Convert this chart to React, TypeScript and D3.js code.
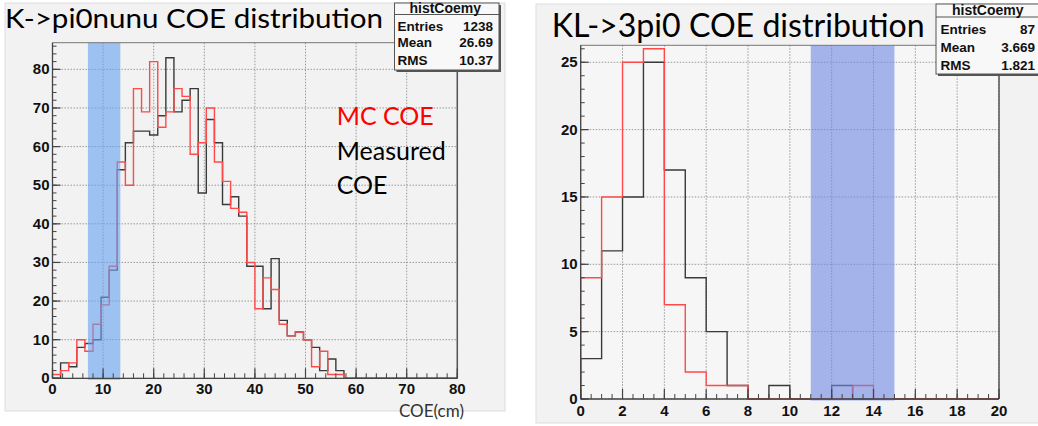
import React from "react";
import * as d3 from "d3";

// ---------- Left panel: K->pi0nunu ----------
const leftRange: [number, number] = [0, 80];
const leftMeasured = [
  0, 4, 3, 8, 9, 10, 21, 28, 54, 61, 64, 64, 63, 68, 83, 69, 72, 75, 48, 67,
  61, 45, 47, 42, 29, 29, 18, 31, 15, 11, 12, 10, 8, 2, 5, 2, 0, 0, 0, 0,
  0, 0, 0, 0, 0, 0, 0, 0, 0, 0,
];
const leftMC = [
  1, 2, 4, 10, 7, 14, 19, 29, 56, 50, 75, 69, 82, 65, 69, 75, 73, 58, 61, 70,
  56, 51, 44, 43, 30, 18, 26, 23, 14, 11, 12, 10, 3, 7, 1, 1, 0, 0, 0, 0,
  0, 0, 0, 0, 0, 0, 0, 0, 0, 0,
];
const leftXTicks = [0, 10, 20, 30, 40, 50, 60, 70, 80];
const leftYTicks = [0, 10, 20, 30, 40, 50, 60, 70, 80];
const leftBand: [number, number] = [7, 13.4];
const leftStatLabels = ["Entries", "Mean", "RMS"];
const leftStatValues = ["1238", "26.69", "10.37"];

// ---------- Right panel: KL->3pi0 ----------
const rightRange: [number, number] = [0, 20];
const rightMeasured = [3, 11, 15, 25, 17, 9, 5, 1, 0, 1, 0, 0, 1, 0, 0, 0, 0, 0, 0, 0];
const rightMC = [9, 15, 25, 26, 7, 2, 1, 1, 0, 0, 0, 0, 0, 1, 0, 0, 0, 0, 0, 0];
const rightXTicks = [0, 2, 4, 6, 8, 10, 12, 14, 16, 18, 20];
const rightYTicks = [0, 5, 10, 15, 20, 25];
const rightBand: [number, number] = [11, 15];
const rightStatLabels = ["Entries", "Mean", "RMS"];
const rightStatValues = ["87", "3.669", "1.821"];

const histName = "histCoemy";

type PanelProps = {
  canvas: { x: number; y: number; w: number; h: number };
  frame: { l: number; r: number; t: number; b: number };
  range: [number, number];
  yMax: number;
  measured: number[];
  mc: number[];
  xTicks: number[];
  yTicks: number[];
  minorX: number;
  minorY: number;
  band: [number, number];
  bandColor: string;
  frameFill: string;
  title: string;
  titleX: number;
  titleY: number;
  titleSize: number;
  titleLen: number;
  stats: { x: number; y: number; w: number; h: number; sepY: number; nameY: number; rowY: number[]; labelX: number; valueX: number };
  statLabels: string[];
  statValues: string[];
  xTickLabelY: number;
};

function stepPath(values: number[], x: d3.ScaleLinear<number, number>, y: d3.ScaleLinear<number, number>, range: [number, number]) {
  const w = (range[1] - range[0]) / values.length;
  const p = d3.path();
  p.moveTo(x(range[0]), y(0));
  values.forEach((v, i) => {
    p.lineTo(x(range[0] + i * w), y(v));
    p.lineTo(x(range[0] + (i + 1) * w), y(v));
  });
  p.lineTo(x(range[1]), y(0));
  return p.toString();
}

function Panel(props: PanelProps) {
  const { canvas, frame, range, yMax, measured, mc, xTicks, yTicks, minorX, minorY, band, stats } = props;
  const x = d3.scaleLinear().domain(range).range([frame.l, frame.r]);
  const y = d3.scaleLinear().domain([0, yMax]).range([frame.b, frame.t]);
  const minorXs = d3.range(range[0], range[1] + 1e-9, minorX);
  const minorYs = d3.range(0, yMax, minorY);
  const tickFont = "'Liberation Sans', Arial, sans-serif";
  return (
    <g>
      <rect x={canvas.x} y={canvas.y} width={canvas.w} height={canvas.h} fill="#f2f2f2" stroke="#dddddd" strokeWidth={1} />
      <rect x={frame.l} y={frame.t} width={frame.r - frame.l} height={frame.b - frame.t} fill={props.frameFill} />
      {/* grid */}
      {xTicks.map((t) => (
        <line key={"gx" + t} x1={x(t)} x2={x(t)} y1={frame.t} y2={frame.b} stroke="#9a9a9a" strokeWidth={1} strokeDasharray="1.5,1.5" />
      ))}
      {yTicks.map((t) => (
        <line key={"gy" + t} x1={frame.l} x2={frame.r} y1={y(t)} y2={y(t)} stroke="#9a9a9a" strokeWidth={1} strokeDasharray="1.5,1.5" />
      ))}
      {/* histograms */}
      <path d={stepPath(measured, x, y, range)} fill="none" stroke="#3a3a3a" strokeWidth={1.4} />
      <path d={stepPath(mc, x, y, range)} fill="none" stroke="#ff4a4a" strokeWidth={1.4} />
      {/* band */}
      <rect x={x(band[0])} y={frame.t} width={x(band[1]) - x(band[0])} height={frame.b - frame.t + 1.5} fill={props.bandColor} opacity={0.6} />
      {/* frame */}
      <line x1={frame.l} x2={frame.r} y1={frame.t} y2={frame.t} stroke="#777" strokeWidth={1} />
      <line x1={frame.r} x2={frame.r} y1={frame.t} y2={frame.b} stroke="#555" strokeWidth={1.5} />
      <line x1={frame.l} x2={frame.l} y1={frame.t} y2={frame.b} stroke="#444" strokeWidth={1.3} />
      <line x1={frame.l} x2={frame.r} y1={frame.b} y2={frame.b} stroke="#444" strokeWidth={1.3} />
      {/* ticks */}
      {minorXs.map((t, i) => (
        <line key={"mx" + i} x1={x(t)} x2={x(t)} y1={frame.b} y2={frame.b - 5} stroke="#444" strokeWidth={1} />
      ))}
      {xTicks.map((t) => (
        <line key={"tx" + t} x1={x(t)} x2={x(t)} y1={frame.b} y2={frame.b - 10} stroke="#444" strokeWidth={1.2} />
      ))}
      {minorYs.map((t, i) => (
        <line key={"my" + i} x1={frame.l} x2={frame.l + 4} y1={y(t)} y2={y(t)} stroke="#444" strokeWidth={1} />
      ))}
      {yTicks.map((t) => (
        <line key={"ty" + t} x1={frame.l} x2={frame.l + 8} y1={y(t)} y2={y(t)} stroke="#444" strokeWidth={1.2} />
      ))}
      {xTicks.map((t) => (
        <text key={"lx" + t} x={x(t)} y={props.xTickLabelY} textAnchor="middle" fontFamily={tickFont} fontWeight="bold" fontSize={15} fill="#111">
          {t}
        </text>
      ))}
      {yTicks.map((t) => (
        <text key={"ly" + t} x={frame.l - 3} y={y(t) + 5} textAnchor="end" fontFamily={tickFont} fontWeight="bold" fontSize={15} fill="#111">
          {t}
        </text>
      ))}
      {/* title */}
      <text x={props.titleX} y={props.titleY} fontFamily="Lato, 'Open Sans', sans-serif" fontSize={props.titleSize} fill="#000" textLength={props.titleLen} lengthAdjust="spacingAndGlyphs">
        {props.title}
      </text>
      {/* stats box */}
      <rect x={stats.x + 2} y={stats.y + 2} width={stats.w} height={stats.h} fill="#555" />
      <rect x={stats.x} y={stats.y} width={stats.w} height={stats.h} fill="#f8f8f8" stroke="#555" strokeWidth={1} />
      <line x1={stats.x} x2={stats.x + stats.w} y1={stats.sepY} y2={stats.sepY} stroke="#555" strokeWidth={1} />
      <text x={(stats.labelX + stats.valueX) / 2} y={stats.nameY} textAnchor="middle" fontFamily={tickFont} fontWeight="bold" fontSize={14} fill="#111">
        {histName}
      </text>
      {props.statLabels.map((s, i) => (
        <text key={"sl" + i} x={stats.labelX} y={stats.rowY[i]} fontFamily={tickFont} fontWeight="bold" fontSize={13.5} fill="#111">
          {s}
        </text>
      ))}
      {props.statValues.map((s, i) => (
        <text key={"sv" + i} x={stats.valueX} y={stats.rowY[i]} textAnchor="end" fontFamily={tickFont} fontWeight="bold" fontSize={13.5} fill="#111">
          {s}
        </text>
      ))}
    </g>
  );
}

export default function App() {
  return (
    <svg width={1038} height={426} style={{ position: "absolute", left: 0, top: 0, background: "#ffffff" }}>
      <rect x={0} y={0} width={1038} height={426} fill="#ffffff" />
      <Panel
        canvas={{ x: 5, y: 3, w: 500, h: 408 }}
        frame={{ l: 52.5, r: 457.3, t: 42.7, b: 378.3 }}
        range={leftRange}
        yMax={86.9}
        measured={leftMeasured}
        mc={leftMC}
        xTicks={leftXTicks}
        yTicks={leftYTicks}
        minorX={2}
        minorY={2}
        band={leftBand}
        bandColor="rgb(100,160,240)"
        frameFill="#f2f2f2"
        title="K->pi0nunu COE distribution"
        titleX={5}
        titleY={27.5}
        titleSize={27.5}
        titleLen={378}
        stats={{ x: 394.5, y: 3, w: 104.5, h: 67, sepY: 14.5, nameY: 12.5, rowY: [31, 47, 65], labelX: 397.5, valueX: 493 }}
        statLabels={leftStatLabels}
        statValues={leftStatValues}
        xTickLabelY={394}
      />
      <Panel
        canvas={{ x: 536, y: 4, w: 510, h: 419 }}
        frame={{ l: 580.7, r: 999, t: 45.3, b: 399 }}
        range={rightRange}
        yMax={26.26}
        measured={rightMeasured}
        mc={rightMC}
        xTicks={rightXTicks}
        yTicks={rightYTicks}
        minorX={0.5}
        minorY={1}
        band={rightBand}
        bandColor="rgb(110,135,225)"
        frameFill="#f6f6f6"
        title="KL->3pi0 COE distribution"
        titleX={551.7}
        titleY={37}
        titleSize={33}
        titleLen={373}
        stats={{ x: 936, y: 4, w: 110, h: 70, sepY: 17, nameY: 14.5, rowY: [34, 52, 69.5], labelX: 940.5, valueX: 1035 }}
        statLabels={rightStatLabels}
        statValues={rightStatValues}
        xTickLabelY={416}
      />
      {/* annotations on the left panel */}
      <text x={336.7} y={125} fontFamily="Lato, 'Open Sans', sans-serif" fontSize={25} fill="#ff0000">MC COE</text>
      <text x={336.7} y={159.5} fontFamily="Lato, 'Open Sans', sans-serif" fontSize={25} fill="#000">Measured</text>
      <text x={336.7} y={194} fontFamily="Lato, 'Open Sans', sans-serif" fontSize={25} fill="#000">COE</text>
      <text x={399} y={416.5} fontFamily="Lato, 'Open Sans', sans-serif" fontSize={17} fill="#333">COE(cm)</text>
    </svg>
  );
}
